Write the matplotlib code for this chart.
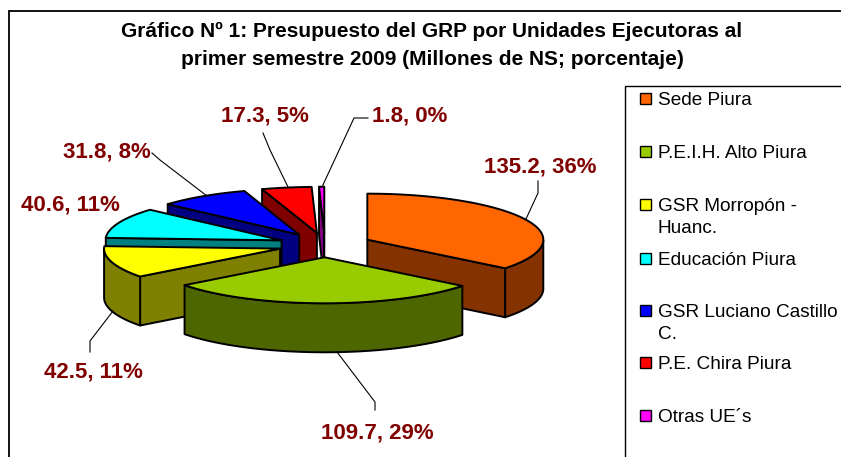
import numpy as np
import matplotlib

matplotlib.use("Agg")
import matplotlib.pyplot as plt
from matplotlib.patches import Polygon, Rectangle

plt.rcParams["font.family"] = ["Liberation Sans", "DejaVu Sans"]

unidades = ["Sede Piura", "P.E.I.H. Alto Piura", "GSR Morropón -\nHuanc.", "Educación Piura",
            "GSR Luciano Castillo\nC.", "P.E. Chira Piura", "Otras UE´s"]
montos = [135.2, 109.7, 42.5, 40.6, 31.8, 17.3, 1.8]
porcentajes = [36, 29, 11, 11, 8, 5, 0]
colores = ["#FF6600", "#99CC00", "#FFFF00", "#00FFFF", "#0000FF", "#FF0000", "#FF00FF"]
colores_lado = ["#843300", "#4D6600", "#808000", "#008080", "#000080", "#800000", "#800080"]

titulo = "Gráfico Nº 1: Presupuesto del GRP por Unidades Ejecutoras al\nprimer semestre 2009 (Millones de NS; porcentaje)"

# pixel positions of the chart, y grows downward
CX, CY = 325, 245
RX, RY = 176, 46
EXPLODE = 47
DEPTH = 49
LW = 1.4

etiquetas_xy = [(540, 167), (377, 433), (93, 372), (70, 205), (107, 152), (265, 116), (410, 116)]
guias = [
    [(526, 219), (538, 193), (538, 181)],
    [(337, 352), (375, 402), (375, 410)],
    [(113, 311), (90, 341), (90, 352)],
    None,
    [(207, 196), (160, 160), (152, 153)],
    [(288, 187), (270, 150), (263, 133)],
    [(322, 187), (354, 118), (368, 118)],
]
legend_y = [99, 152, 205, 259, 311, 363, 416]


def punto(cx, cy, ang):
    return cx + RX * np.sin(ang), cy - RY * np.cos(ang)


def extruir(xs, ys):
    xs, ys = np.asarray(xs), np.asarray(ys)
    return np.column_stack([np.r_[xs, xs[::-1]], np.r_[ys, ys[::-1] + DEPTH]])


def dibujar_porcion(ax, a1, a2, color, lado):
    medio = (a1 + a2) / 2
    cx = CX + EXPLODE * np.sin(medio)
    cy = CY - EXPLODE * RY / RX * np.cos(medio)
    ang = np.linspace(a1, a2, 80)
    ax_x, ax_y = punto(cx, cy, ang)

    caras = []
    # radial cut faces, kept only if they look toward the viewer
    x1, y1 = punto(cx, cy, a1)
    if x1 < cx:
        caras.append(extruir([cx, x1], [cy, y1]))
    x2, y2 = punto(cx, cy, a2)
    if x2 > cx:
        caras.append(extruir([x2, cx], [y2, cy]))
    # outer rim, front half only
    frente = (ang >= np.pi / 2) & (ang <= 3 * np.pi / 2)
    if frente.sum() > 1:
        caras.append(extruir(ax_x[frente], ax_y[frente]))

    for cara in caras:
        ax.add_patch(Polygon(cara, closed=True, fc=lado, ec="black", lw=LW, joinstyle="round"))
    tapa = np.column_stack([np.r_[cx, ax_x], np.r_[cy, ax_y]])
    ax.add_patch(Polygon(tapa, closed=True, fc=color, ec="black", lw=LW, joinstyle="round"))


fig = plt.figure(figsize=(8.41, 4.57), dpi=100)
ax = fig.add_axes([0, 0, 1, 1])
ax.set_xlim(0, 841)
ax.set_ylim(457, 0)
ax.axis("off")

# chart frame and legend frame run off the picture
ax.add_patch(Rectangle((9, 11), 840, 470, fc="white", ec="black", lw=1.3))
ax.add_patch(Rectangle((625, 86), 230, 390, fc="white", ec="black", lw=1.0))

ax.text(432, 45, titulo, ha="center", va="center", fontsize=15, fontweight="bold",
        color="black", linespacing=1.6)

total = sum(montos)
bordes = np.r_[0, np.cumsum(montos)] / total * 2 * np.pi
orden = [6, 5, 4, 3, 2, 0, 1]  # back to front
for i in orden:
    dibujar_porcion(ax, bordes[i], bordes[i + 1], colores[i], colores_lado[i])

for guia in guias:
    if guia is not None:
        ax.plot(*zip(*guia), color="black", lw=0.8)

for i, (x, y) in enumerate(etiquetas_xy):
    ax.text(x, y, f"{montos[i]}, {porcentajes[i]}%", ha="center", va="center",
            fontsize=16, fontweight="bold", color="#800000")

for i, y in enumerate(legend_y):
    ax.add_patch(Rectangle((640, y - 6), 11, 11, fc=colores[i], ec="black", lw=1.0))
    ax.text(658, y - 7, unidades[i], ha="left", va="top", fontsize=13.7, color="black",
            linespacing=1.4)

fig.savefig("out.png", dpi=100)
plt.close(fig)
